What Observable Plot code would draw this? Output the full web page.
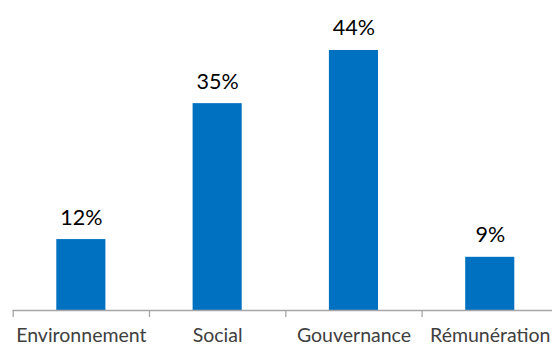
<!DOCTYPE html>
<html>
<head>
<meta charset="utf-8">
<script src="https://cdn.jsdelivr.net/npm/d3@7"></script>
<script src="https://cdn.jsdelivr.net/npm/@observablehq/plot@0.6"></script>
<style>
  html, body { margin: 0; padding: 0; background: #fff; }
  #chart svg { display: block; }
</style>
</head>
<body>
<div id="chart"></div>
<script>
const categories = ["Environnement", "Social", "Gouvernance", "Rémunération"];
const values = [12, 35, 44, 9];
const valueLabels = ["12%", "35%", "44%", "9%"];

const data = categories.map((c, i) => ({i, category: c, value: values[i], label: valueLabels[i]}));

const chart = Plot.plot({
  width: 552,
  height: 347,
  marginTop: 14.5,
  marginBottom: 37,
  marginLeft: 12.7,
  marginRight: 0,
  x: {type: "linear", domain: [0, 4], range: [12.7, 557.9], axis: null},
  y: {domain: [0, 50], axis: null},
  marks: [
    Plot.rectY(data, {x: "i", interval: 1, y: "value", fill: "#0070C0", insetLeft: 43.6, insetRight: 43.6}),
    Plot.ruleY([0], {stroke: "#a6a6a6", strokeWidth: 1.3}),
    Plot.ruleX(d3.range(categories.length), {x: d => d, y1: 0, y2: 0, insetBottom: -7, stroke: "#a6a6a6", strokeWidth: 1.3}),
    Plot.text(data, {x: d => d.i + 0.5, y: "value", text: "label", lineAnchor: "bottom", dy: -15,
      fill: "#000", fontSize: 21.5, fontFamily: "Lato, 'Liberation Sans', sans-serif"}),
    Plot.text(data, {x: d => d.i + 0.5, y: () => 0, text: "category", lineAnchor: "bottom", dy: 31.5,
      fill: "#404040", fontSize: 19.5, fontFamily: "Lato, 'Liberation Sans', sans-serif"})
  ]
});
document.getElementById("chart").appendChild(chart);
</script>
</body>
</html>
